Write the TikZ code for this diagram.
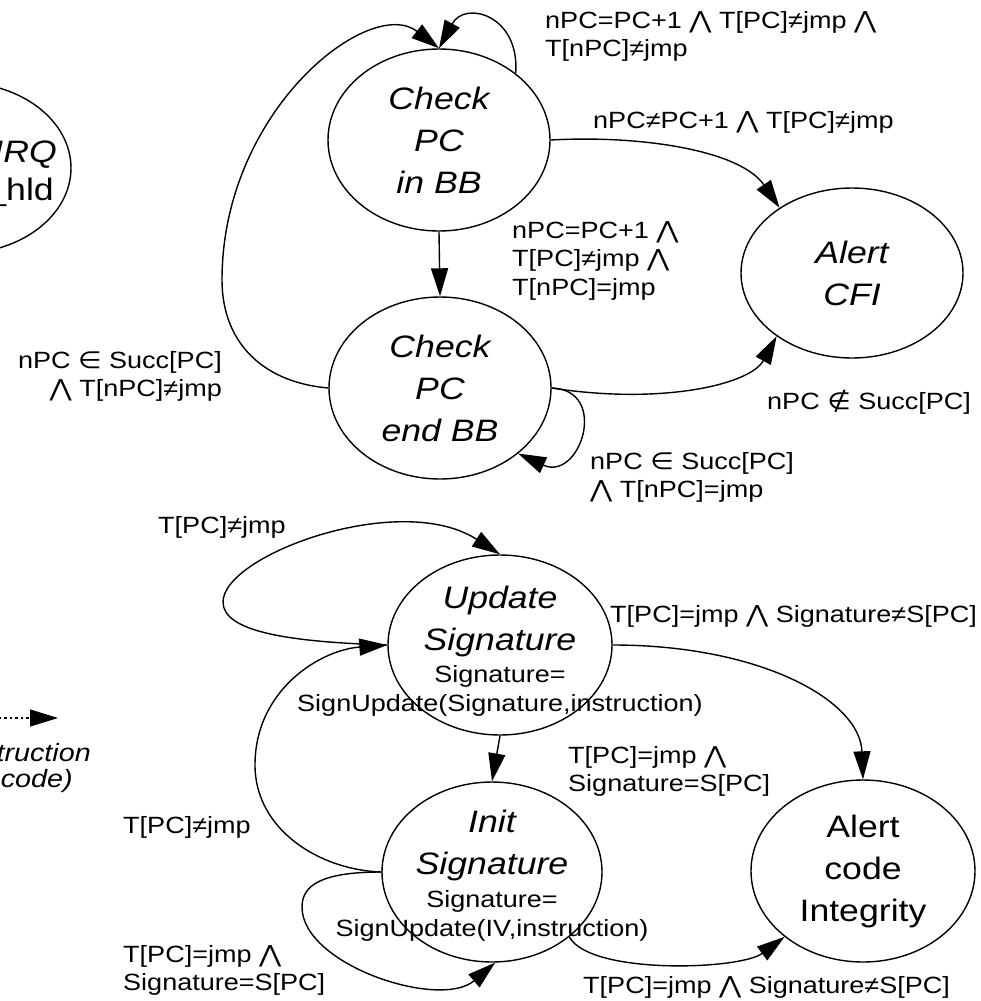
\documentclass[tikz,border=0pt]{standalone}
\usepackage{fontspec}
\setmainfont{Liberation Sans}[FakeStretch=1.15]
\newfontfamily\opfont{DejaVu Sans}[FakeStretch=1.15]
\usetikzlibrary{arrows.meta,shapes.geometric}

% logical operators set in a font that has them
\newcommand\Land{{\opfont ⋀}}
\newcommand\Lin{{\opfont ∈}}
\newcommand\Lnotin{{\opfont ∉}}
\newcommand\titlesize{\fontsize{31}{42}\selectfont}
\newcommand\lblsize{\fontsize{23.5}{28.5}\selectfont}

\tikzset{
  st/.style={draw, ellipse, line width=1.4pt, inner sep=0pt,
    minimum width=222pt, minimum height=182pt, align=center,
    font=\titlesize\itshape},
  ttl/.style={align=center, inner sep=0pt, font=\titlesize\itshape},
  sub/.style={align=center, inner sep=0pt, font=\lblsize},
  lbl/.style={align=left, inner sep=0pt, font=\lblsize},
  edge/.style={line width=1.4pt, -{Triangle[length=28pt,width=17pt]}},
}

\begin{document}
\begin{tikzpicture}[x=1pt,y=-1pt]
\useasboundingbox (0,0) rectangle (980,1001);
\clip (0,0) rectangle (980,1001);

% ---------- states ----------
\node[st, minimum height=171pt] (IRQ) at (-40,168) {};
\node[ttl, anchor=base east] (IRQa) at (57,162) {IRQ};
\node[ttl, font=\titlesize\upshape, anchor=base east] (IRQb) at (54,200) {\_hld};

\node[st] (CPB) at (439,140) {Check\\PC\\in BB};
\node[st] (CPE) at (440,388) {Check\\PC\\end BB};
\node[st, minimum height=170pt] (CFI) at (852,273) {Alert\\CFI};

\node[st, minimum width=224pt, minimum height=180pt] (US) at (500,645) {};
\node[ttl] (USt) at (500,621) {Update\\Signature};
\node[sub] (USs) at (500,691) {Signature=\\SignUpdate(Signature,instruction)};

\node[st, minimum width=220pt, minimum height=180pt] (IS) at (492,872) {};
\node[ttl] (ISt) at (492,845) {Init\\Signature};
\node[sub] (ISs) at (492,916) {Signature=\\SignUpdate(IV,instruction)};

\node[st, minimum width=224pt, font=\titlesize\upshape] (ACI) at (863,871) {Alert\\code\\Integrity};

% ---------- legend (dotted arrow) ----------
\coordinate (lgs) at (-40,718);
\coordinate (lge) at (58,718);
\draw[edge, dash pattern=on 2.5pt off 3pt] (lgs) -- (lge);
\node[lbl, font=\fontsize{25}{30}\selectfont\itshape, anchor=base east] (lg1) at (91,761) {instruction};
\node[lbl, font=\fontsize{25}{30}\selectfont\itshape, anchor=base east] (lg2) at (73,787) {(opcode)};

% ---------- control-flow transitions ----------
\draw[edge] (CPB.41) .. controls (520,15) and (465,0) .. (CPB.north);
\draw[edge] (CPE.west) .. controls (260,382) and (222,340) .. (222,280)
  .. controls (222,110) and (370,-5) .. (CPB.north);
\draw[edge] (CPB.south) -- (CPE.north);
\draw[edge] (CPB.east) .. controls (640,135) and (740,150) .. (CFI.138);
\draw[edge] (CPE.east) .. controls (660,405) and (750,385) .. (CFI.220);
\draw[edge] (CPE.east) .. controls (610,390) and (580,482) .. (CPE.320);

% ---------- signature transitions ----------
\draw[edge] (US.west) .. controls (290,642) and (223,632) .. (223,602)
  .. controls (223,555) and (400,490) .. (US.north);
\draw[edge] (IS.west) .. controls (320,870) and (255,830) .. (255,765)
  .. controls (255,690) and (320,650) .. (US.west);
\draw[edge] (IS.west) .. controls (322,872) and (302,885) .. (302,907)
  .. controls (302,965) and (440,1010) .. (IS.272);
\draw[edge] (US.south) -- (IS.north);
\draw[edge] (US.east) .. controls (760,645) and (860,700) .. (ACI.north);
\draw[edge] (IS.320) .. controls (590,975) and (740,970) .. (ACI.220);

% ---------- transition labels ----------
\node[lbl, anchor=north west] (l1) at (545,11) {nPC=PC+1 \Land{} T[PC]≠jmp \Land\\T[nPC]≠jmp};
\node[lbl, anchor=base west] (l2) at (593,128) {nPC≠PC+1 \Land{} T[PC]≠jmp};
\node[lbl, anchor=north west] (l3) at (512,221) {nPC=PC+1 \Land\\T[PC]≠jmp \Land\\T[nPC]=jmp};
\node[lbl, align=right, anchor=north east] (l4) at (222,351) {nPC \Lin{} Succ[PC]\\\Land{} T[nPC]≠jmp};
\node[lbl, anchor=base west] (l5) at (767,409) {nPC \Lnotin{} Succ[PC]};
\node[lbl, anchor=north west] (l6) at (590,452) {nPC \Lin{} Succ[PC]\\\Land{} T[nPC]=jmp};
\node[lbl, anchor=base west] (l7) at (158,533) {T[PC]≠jmp};
\node[lbl, anchor=base west] (l8) at (610,622) {T[PC]=jmp \Land{} Signature≠S[PC]};
\node[lbl, anchor=north west] (l9) at (568,746) {T[PC]=jmp \Land\\Signature=S[PC]};
\node[lbl, anchor=base west] (l10) at (123,833) {T[PC]≠jmp};
\node[lbl, anchor=north west] (l11) at (123,945) {T[PC]=jmp \Land\\Signature=S[PC]};
\node[lbl, anchor=base west] (l12) at (583,993) {T[PC]=jmp \Land{} Signature≠S[PC]};
\end{tikzpicture}
\end{document}
